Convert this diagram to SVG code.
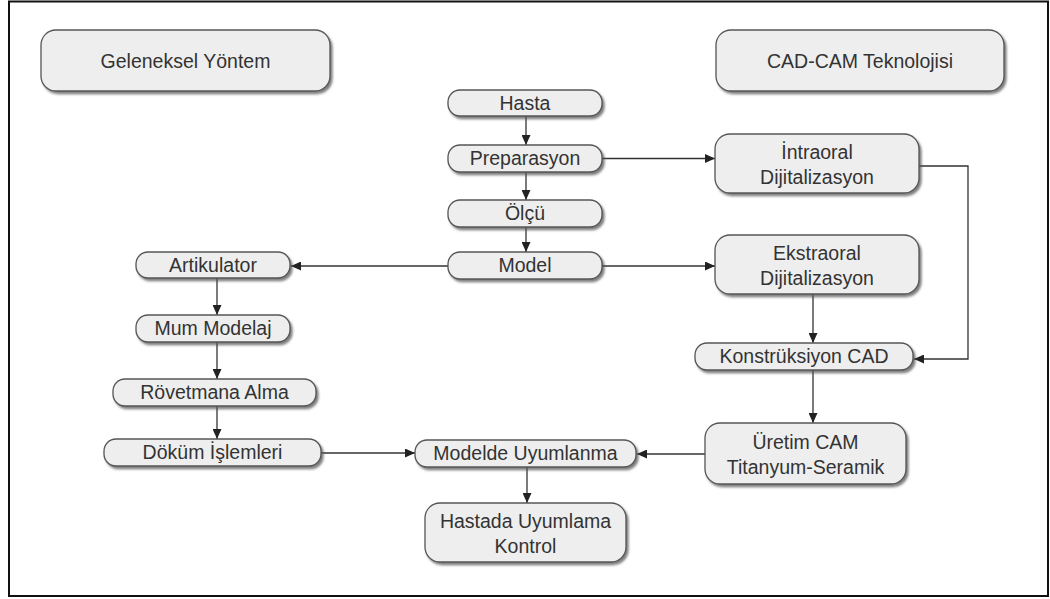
<svg xmlns="http://www.w3.org/2000/svg" width="1050" height="599" viewBox="0 0 1050 599">
<style>
.box{fill:#eeeeee;stroke:#555555;stroke-width:1.3;filter:url(#sh)}
.t{font-family:"Liberation Sans",Arial,sans-serif;font-size:19.5px;fill:#333333;text-anchor:middle}
.c{fill:none;stroke:#333333;stroke-width:1.3}
.a{marker-end:url(#ah)}
</style>
<defs>
<filter id="sh" x="-10%" y="-30%" width="120%" height="170%">
<feDropShadow dx="2" dy="2.5" stdDeviation="1" flood-color="#555555" flood-opacity="0.75"/>
</filter>
<marker id="ah" markerUnits="userSpaceOnUse" markerWidth="11" markerHeight="9" refX="10" refY="4.5" orient="auto">
<path d="M0,0 L10,4.5 L0,9 Z" fill="#222222"/>
</marker>
</defs>
<rect x="9" y="1.5" width="1039" height="594.5" fill="#ffffff" stroke="#111111" stroke-width="2"/>

<g id="connectors">
<line class="c a" x1="526" y1="116" x2="526" y2="145"/>
<line class="c a" x1="526" y1="172" x2="526" y2="200"/>
<line class="c a" x1="526" y1="227" x2="526" y2="252"/>
<line class="c a" x1="448" y1="266" x2="291" y2="266"/>
<line class="c a" x1="602" y1="266" x2="715" y2="266"/>
<line class="c a" x1="602" y1="158.5" x2="715" y2="158.5"/>
<polyline class="c a" points="919,166 968,166 968,359 914,359"/>
<line class="c a" x1="813" y1="294" x2="813" y2="343"/>
<line class="c a" x1="813" y1="370" x2="813" y2="423"/>
<line class="c a" x1="705" y1="454" x2="637" y2="454"/>
<line class="c a" x1="321" y1="453" x2="415" y2="453"/>
<line class="c a" x1="527" y1="467" x2="527" y2="503"/>
<line class="c a" x1="217" y1="278" x2="217" y2="315"/>
<line class="c a" x1="217" y1="342" x2="217" y2="379"/>
<line class="c a" x1="217" y1="406" x2="217" y2="439"/>
</g>

<g id="geleneksel"><rect class="box" x="41" y="30" width="289" height="61" rx="15"/><text class="t" x="185.5" y="67.5">Geleneksel Yöntem</text></g>
<g id="cadcam"><rect class="box" x="716" y="30" width="288" height="61" rx="15"/><text class="t" x="860" y="67.5">CAD-CAM Teknolojisi</text></g>

<g id="hasta"><rect class="box" x="448" y="90" width="154" height="26" rx="12"/><text class="t" x="525" y="110">Hasta</text></g>
<g id="preparasyon"><rect class="box" x="448" y="145" width="154" height="27" rx="12"/><text class="t" x="525" y="165">Preparasyon</text></g>
<g id="olcu"><rect class="box" x="448" y="200" width="154" height="27" rx="12"/><text class="t" x="525" y="220">Ölçü</text></g>
<g id="model"><rect class="box" x="448" y="252" width="154" height="27" rx="12"/><text class="t" x="525" y="272">Model</text></g>

<g id="intraoral"><rect class="box" x="715" y="134" width="204" height="59" rx="15"/><text class="t" x="817" y="159">İntraoral</text><text class="t" x="817" y="184">Dijitalizasyon</text></g>
<g id="ekstraoral"><rect class="box" x="715" y="235" width="204" height="59" rx="15"/><text class="t" x="817" y="260">Ekstraoral</text><text class="t" x="817" y="285">Dijitalizasyon</text></g>
<g id="konstruksiyon"><rect class="box" x="695" y="343" width="218" height="27" rx="12"/><text class="t" x="804" y="363">Konstrüksiyon CAD</text></g>
<g id="uretim"><rect class="box" x="705" y="423" width="201" height="61" rx="15"/><text class="t" x="805.5" y="449">Üretim CAM</text><text class="t" x="805.5" y="474">Titanyum-Seramik</text></g>

<g id="artikulator"><rect class="box" x="136" y="252" width="154" height="26" rx="12"/><text class="t" x="213" y="272">Artikulator</text></g>
<g id="mummodelaj"><rect class="box" x="136" y="315" width="154" height="27" rx="12"/><text class="t" x="213" y="335">Mum Modelaj</text></g>
<g id="rovetmana"><rect class="box" x="113" y="379" width="203" height="27" rx="12"/><text class="t" x="214.5" y="399">Rövetmana Alma</text></g>
<g id="dokum"><rect class="box" x="104" y="439" width="217" height="27" rx="12"/><text class="t" x="212.5" y="459">Döküm İşlemleri</text></g>

<g id="modelde"><rect class="box" x="415" y="440" width="221" height="27" rx="12"/><text class="t" x="525.5" y="460">Modelde Uyumlanma</text></g>
<g id="hastada"><rect class="box" x="425" y="503" width="201" height="59" rx="15"/><text class="t" x="525.5" y="528">Hastada Uyumlama</text><text class="t" x="525.5" y="553">Kontrol</text></g>
</svg>
